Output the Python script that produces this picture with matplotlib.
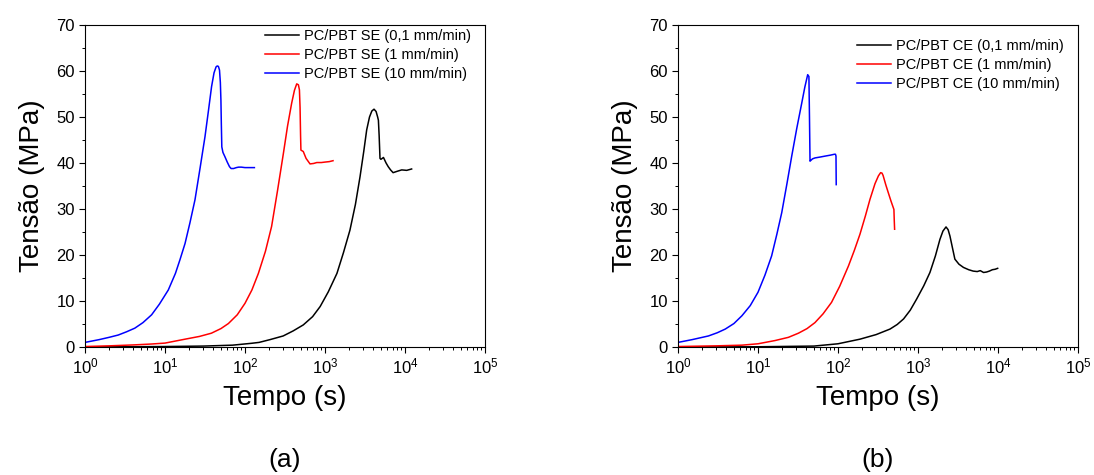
import matplotlib
matplotlib.use("Agg")
import matplotlib.pyplot as plt
from matplotlib.ticker import LogLocator, MultipleLocator, NullFormatter

plt.rcParams["font.family"] = ["Liberation Sans", "DejaVu Sans"]

# ---- (a) PC/PBT SE ----
se_01_t = [1, 3, 10, 30, 70, 120, 150, 205, 300, 400, 535, 700, 870, 1100,
           1410, 1700, 2050, 2400, 2740, 3050, 3320, 3600, 3850, 4100, 4350,
           4550, 4650, 4750, 4870, 5000, 5380, 5800, 6170, 6600, 7100, 8000,
           9100, 10500, 12100]
se_01_y = [0.0, 0.05, 0.1, 0.2, 0.4, 0.8, 1.0, 1.6, 2.4, 3.5, 4.8, 6.6, 8.8,
           12.0, 16.0, 20.5, 25.4, 31.0, 37.0, 42.5, 47.2, 50.0, 51.3, 51.7,
           51.2, 50.0, 49.3, 46.0, 41.0, 40.8, 41.2, 40.0, 39.2, 38.5, 37.9,
           38.2, 38.5, 38.4, 38.7]

se_1_t = [1, 2, 4, 6.8, 10, 17.8, 27, 38, 50, 62, 80, 100, 122, 147, 180, 215,
          255, 302, 340, 383, 415, 443, 465, 479, 488, 495, 500, 535, 580, 650,
          720, 790, 900, 1000, 1130, 1260]
se_1_y = [0.1, 0.25, 0.45, 0.65, 0.85, 1.7, 2.3, 3.0, 4.0, 5.1, 7.0, 9.5,
          12.4, 16.0, 20.8, 26.2, 34.0, 42.1, 48.0, 53.0, 55.8, 57.2, 57.0,
          55.9, 52.0, 46.0, 42.8, 42.5, 41.0, 39.8, 39.9, 40.1, 40.1, 40.2,
          40.3, 40.5]

se_10_t = [1, 1.5, 2, 2.6, 3.3, 4.2, 5.3, 6.8, 8.5, 11, 13.5, 15.4, 17.8, 20.5,
           23.7, 27.5, 31.6, 35, 38.2, 41, 43.5, 45, 46.5, 48, 49.2, 50, 50.6,
           51.3, 53, 56, 60, 64, 67, 72, 78, 83, 90, 100, 115, 131]
se_10_y = [1.0, 1.6, 2.1, 2.6, 3.3, 4.1, 5.3, 7.0, 9.3, 12.4, 16.0, 19.0, 22.5,
           27.0, 32.0, 39.0, 45.7, 51.5, 56.6, 59.6, 60.9, 61.1, 61.0, 60.2,
           57.5, 53.7, 48.5, 43.5, 42.3, 41.4, 40.2, 39.2, 38.8, 38.8, 39.0,
           39.1, 39.1, 39.0, 39.0, 39.0]

# ---- (b) PC/PBT CE ----
ce_01_t = [1, 10, 50, 100, 188, 300, 447, 550, 660, 800, 960, 1180, 1410, 1650,
           1880, 2050, 2240, 2380, 2510, 2700, 2890, 3250, 3700, 4300, 4900,
           5500, 6000, 6600, 7200, 7800, 8500, 9200, 9900]
ce_01_y = [0.0, 0.05, 0.2, 0.7, 1.7, 2.7, 3.9, 4.9, 6.1, 8.0, 10.4, 13.3, 16.2,
           19.8, 23.4, 25.2, 26.1, 25.5, 24.1, 21.5, 19.1, 18.0, 17.3, 16.8,
           16.5, 16.4, 16.6, 16.2, 16.3, 16.5, 16.8, 16.9, 17.1]

ce_1_t = [1, 3, 6.3, 10, 16.3, 24, 32, 41, 51.5, 65, 83, 105, 135, 160, 188,
          220, 251, 290, 320, 341, 355, 366, 395, 426, 460, 500, 505, 510]
ce_1_y = [0.1, 0.25, 0.4, 0.7, 1.4, 2.1, 3.0, 4.0, 5.3, 7.2, 9.7, 13.2, 17.6,
          21.0, 24.5, 28.5, 32.1, 35.5, 37.2, 37.9, 37.8, 37.3, 35.3, 33.5,
          31.7, 29.9, 27.5, 25.6]

ce_10_t = [1, 1.5, 2.4, 3.1, 3.9, 5, 6.3, 8, 10, 12.2, 14.8, 17.2, 19.8, 23,
           26.4, 30.5, 35.2, 38.5, 41.8, 43.3, 44.0, 44.7, 46, 48, 51.5, 60, 69,
           80, 90, 93, 94.4, 95]
ce_10_y = [1.0, 1.6, 2.4, 3.1, 3.9, 5.1, 6.8, 9.0, 11.9, 15.6, 19.8, 24.5, 29.2,
           35.5, 41.5, 47.5, 53.0, 56.5, 59.2, 58.8, 50.0, 40.4, 40.6, 40.9,
           41.1, 41.3, 41.5, 41.7, 41.9, 41.9, 41.5, 35.3]

rates = ["0,1 mm/min", "1 mm/min", "10 mm/min"]
colors = ["black", "#ff0000", "#0000ff"]

# name, curves, caption, axes left edge (px), legend anchor (axes fraction)
panels = [
    ("SE", [(se_01_t, se_01_y), (se_1_t, se_1_y), (se_10_t, se_10_y)], "(a)",
     85, (0.45, 0.988)),
    ("CE", [(ce_01_t, ce_01_y), (ce_1_t, ce_1_y), (ce_10_t, ce_10_y)], "(b)",
     678, (0.4475, 0.957)),
]

W, H = 1094, 475
fig = plt.figure(figsize=(W / 100, H / 100), dpi=100)

for name, series, tag, left_px, anchor in panels:
    ax = fig.add_axes((left_px / W, (H - 347) / H, 400 / W, 322 / H))
    for (t, y), rate, c in zip(series, rates, colors):
        ax.plot(t, y, color=c, lw=1.1, label=f"PC/PBT {name} ({rate})")

    ax.set_xscale("log")
    ax.set_xlim(1, 1e5)
    ax.set_ylim(0, 70)
    ax.xaxis.set_major_locator(LogLocator(base=10, numticks=10))
    ax.xaxis.set_minor_locator(LogLocator(base=10, subs=range(2, 10), numticks=20))
    ax.xaxis.set_minor_formatter(NullFormatter())
    ax.yaxis.set_major_locator(MultipleLocator(10))
    ax.yaxis.set_minor_locator(MultipleLocator(5))
    ax.tick_params(which="major", direction="out", length=4.2, width=0.8,
                   labelsize=12, pad=3)
    ax.tick_params(which="minor", direction="out", length=2.0, width=0.7)
    for s in ax.spines.values():
        s.set_linewidth(0.8)

    ax.set_xlabel("Tempo (s)", fontsize=20, labelpad=6)
    ax.set_ylabel("Tensão (MPa)", fontsize=20, labelpad=8)

    ax.legend(loc="upper left", bbox_to_anchor=anchor, frameon=False,
              fontsize=10.5, handlelength=2.3, handletextpad=0.35,
              labelspacing=0.34, borderpad=0, borderaxespad=0)

    fig.text((left_px + 200) / W, (H - 460) / H, tag, fontsize=19,
             ha="center", va="center")

fig.savefig("out.png", dpi=100)
